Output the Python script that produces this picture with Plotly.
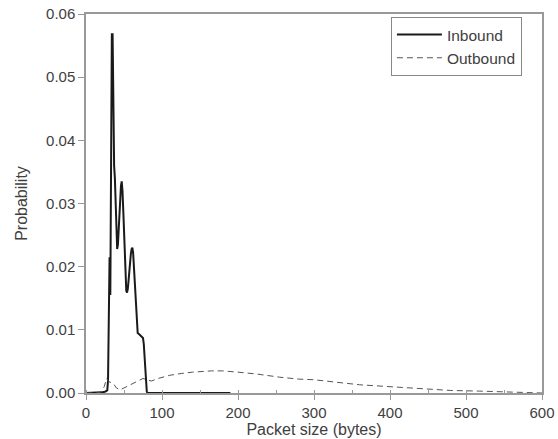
import plotly.graph_objects as go

# Inbound packet size distribution
in_x = [0, 10, 20, 25, 28, 29, 30, 31, 32, 33, 34, 35, 36, 37, 38, 39, 40, 41, 42, 43,
        44, 45, 46, 47, 48, 49, 50, 51, 52, 53, 54, 55, 56, 57, 58, 59, 60, 61, 62, 63,
        64, 65, 66, 67, 68, 70, 72, 74, 75, 76, 77, 78, 79, 80, 81, 100, 150, 190]
in_y = [0, 0, 0.0001, 0.0002, 0.0004, 0.002, 0.012, 0.0215, 0.0155, 0.035, 0.0568, 0.0568,
        0.045, 0.036, 0.034, 0.030, 0.025, 0.0228, 0.0235, 0.026, 0.029, 0.031, 0.0328,
        0.0335, 0.032, 0.029, 0.025, 0.021, 0.0178, 0.0162, 0.0159, 0.0165, 0.0178, 0.0195,
        0.021, 0.022, 0.0228, 0.023, 0.0222, 0.020, 0.0172, 0.0145, 0.012, 0.0102, 0.0095,
        0.0093, 0.0091, 0.0089, 0.0087, 0.0078, 0.006, 0.0035, 0.0012, 0.0002, 0, 0, 0, 0]

# Outbound packet size distribution
out_x = [0, 15, 20, 24, 27, 30, 36, 40, 45, 50, 55, 60, 67, 75, 80, 86, 95, 100, 110, 126,
         140, 165, 180, 200, 225, 255, 280, 300, 334, 360, 400, 430, 480, 518, 550, 600]
out_y = [0, 0, 0.0002, 0.001, 0.0023, 0.0018, 0.0015, 0.0008, 0.0005, 0.0008, 0.0012,
         0.0015, 0.0018, 0.0023, 0.0021, 0.0019, 0.0023, 0.0025, 0.0028, 0.0031, 0.0033,
         0.0035, 0.0035, 0.0033, 0.003, 0.0025, 0.0022, 0.0021, 0.0016, 0.0013, 0.001,
         0.00075, 0.0004, 0.0003, 0.00015, 0]

x_ticks = [0, 100, 200, 300, 400, 500, 600]
y_ticks = [0.00, 0.01, 0.02, 0.03, 0.04, 0.05, 0.06]

txt = "#404040"
family = "Liberation Sans, Arial, sans-serif"

fig = go.Figure()
fig.add_trace(go.Scatter(x=in_x, y=in_y, mode="lines", name="Inbound",
                         line=dict(color="#1a1a1a", width=2)))
fig.add_trace(go.Scatter(x=out_x, y=out_y, mode="lines", name="Outbound",
                         line=dict(color="#555555", width=1, dash="6px,4px")))

fig.update_layout(
    width=558, height=439,
    margin=dict(l=86, r=16, t=14, b=46),
    paper_bgcolor="white", plot_bgcolor="white",
    font=dict(family=family, size=15, color=txt),
    showlegend=True,
    legend=dict(x=0.956, y=0.992, xanchor="right", yanchor="top",
                bgcolor="white", bordercolor="#888888", borderwidth=1,
                itemwidth=45,
                font=dict(size=15.5, color=txt), tracegroupgap=0),
    xaxis=dict(range=[0, 600], tickvals=x_ticks, ticktext=[str(v) for v in x_ticks],
               showgrid=False, zeroline=False, showline=True, linecolor="#999999",
               linewidth=1.5, mirror=True, ticks="outside", ticklen=5, tickcolor="#999999",
               minor=dict(dtick=50, ticks="inside", ticklen=3, tickcolor="#999999"),
               automargin=False,
               title=dict(text="Packet size (bytes)", standoff=4,
                          font=dict(size=16, color=txt))),
    yaxis=dict(range=[0, 0.06], tickvals=y_ticks, ticktext=[f"{v:.2f}" for v in y_ticks],
               showgrid=False, zeroline=False, showline=True, linecolor="#999999",
               linewidth=1.5, mirror=True, ticks="outside", ticklen=6, tickcolor="#999999",
               automargin=False,
               title=dict(text="Probability", standoff=14,
                          font=dict(size=16, color=txt))),
)

fig.write_html("out.html")
